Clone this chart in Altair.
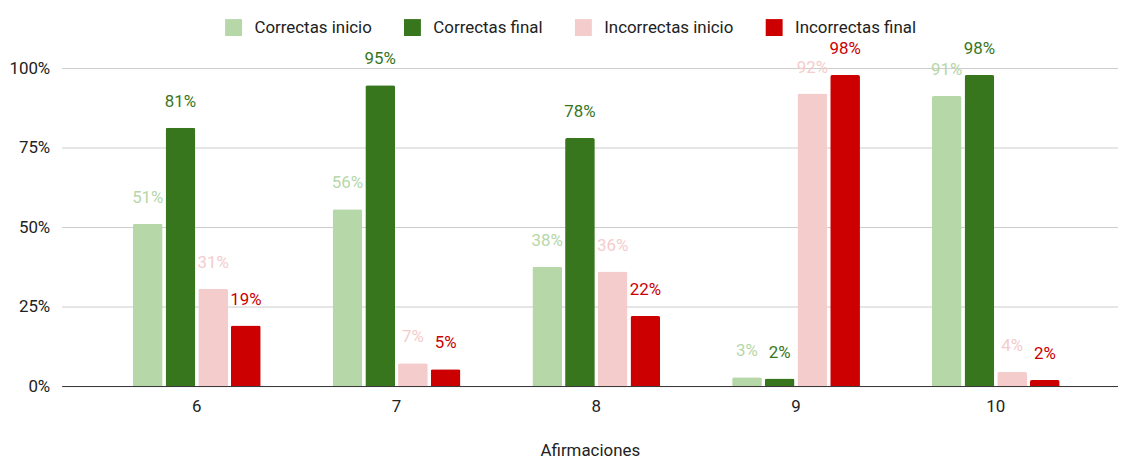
import altair as alt
import pandas as pd

categories = ["6", "7", "8", "9", "10"]
series = ["Correctas inicio", "Correctas final", "Incorrectas inicio", "Incorrectas final"]
colors = ["#b6d7a8", "#38761d", "#f4cccc", "#cc0000"]
correctas_inicio = [0.51, 0.556, 0.375, 0.028, 0.912]
correctas_final = [0.8125, 0.946, 0.78, 0.024, 0.978]
incorrectas_inicio = [0.306, 0.072, 0.36, 0.92, 0.044]
incorrectas_final = [0.19, 0.053, 0.22, 0.978, 0.019]

rows = []
for s, vals in zip(series, [correctas_inicio, correctas_final, incorrectas_inicio, incorrectas_final]):
    for c, v in zip(categories, vals):
        rows.append({"Afirmaciones": c, "serie": s, "valor": v})
df = pd.DataFrame(rows)

FONT = "Roboto"
FS = 17

x = alt.X("Afirmaciones:N", sort=categories, title="Afirmaciones",
          scale=alt.Scale(paddingInner=0.36, paddingOuter=0.3243, align=0.55),
          axis=alt.Axis(labelAngle=0, ticks=False, domainColor="#333333", labelFontSize=FS,
                        labelColor="#222222", labelPadding=13, titleFontSize=FS,
                        titleFontWeight="normal", titleColor="#222222", titlePadding=28,
                        labelFont=FONT, titleFont=FONT))
xo = alt.XOffset("serie:N", sort=series, scale=alt.Scale(paddingInner=0.09, paddingOuter=0))
y = alt.Y("valor:Q", title=None, scale=alt.Scale(domain=[0, 1], nice=False),
          axis=alt.Axis(values=[0, 0.25, 0.5, 0.75, 1], format=".0%", domain=False, ticks=False,
                        gridColor="#cccccc", labelFontSize=FS, labelColor="#222222",
                        labelPadding=12, labelFont=FONT))
color = alt.Color("serie:N", sort=series, scale=alt.Scale(domain=series, range=colors),
                  legend=alt.Legend(title=None, orient="none", direction="horizontal", columns=4,
                                    legendX=164, legendY=-50, symbolType="square", symbolSize=290,
                                    symbolStrokeWidth=0, labelFontSize=FS, labelColor="#222222",
                                    labelFont=FONT, labelOffset=12, columnPadding=31))

bars = alt.Chart(df).mark_bar(cornerRadiusTopLeft=2, cornerRadiusTopRight=2).encode(
    x=x, xOffset=xo, y=y, color=color)

labels = alt.Chart(df).mark_text(baseline="alphabetic", dy=-21, fontSize=FS, font=FONT).encode(
    x=x, xOffset=xo, y=y,
    text=alt.Text("valor:Q", format=".0%"),
    color=alt.Color("serie:N", sort=series, scale=alt.Scale(domain=series, range=colors), legend=None))

chart = (bars + labels).properties(width=1063, height=320,
                                  padding={"left": 0, "top": 9, "right": 0, "bottom": 0}).configure_view(stroke=None)

chart.save("out.html", embed_options={"renderer": "svg", "actions": False})
